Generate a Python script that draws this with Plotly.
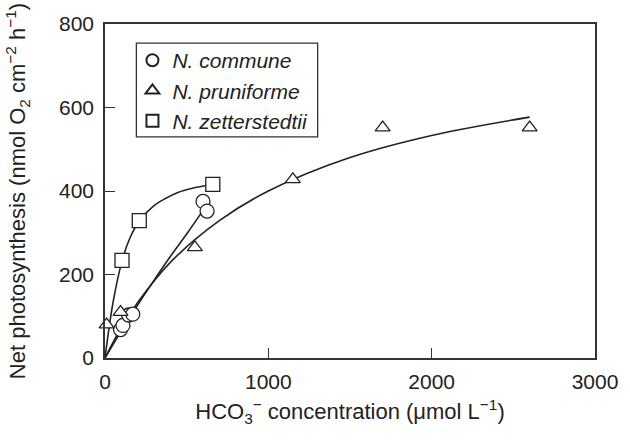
import plotly.graph_objects as go

# Measured data points
commune_x = [95, 110, 145, 170, 600, 625]
commune_y = [68, 78, 103, 105, 375, 352]
pruniforme_x = [10, 95, 550, 1150, 1700, 2600]
pruniforme_y = [80, 110, 265, 428, 552, 552]
zetter_x = [104, 210, 660]
zetter_y = [234, 329, 416]

# Fitted curves
commune_fit_x = [0, 100, 200, 300, 400, 500, 615]
commune_fit_y = [0, 65, 127, 186, 243, 297, 362]
pruniforme_fit_x = [0, 100, 200, 400, 700, 1000, 1500, 2000, 2600]
pruniforme_fit_y = [0, 73, 133, 229, 329, 400, 480, 533, 577]
zetter_fit_x = [0, 50, 104, 150, 210, 300, 370, 450, 530, 660]
zetter_fit_y = [0, 135, 232, 285, 328, 365, 382, 397, 406, 416]

x_ticks = [0, 1000, 2000, 3000]
y_ticks = [0, 200, 400, 600, 800]

INK = "#222222"
AXIS = "#333333"
FONT = "Liberation Sans, Arial, sans-serif"

fig = go.Figure()

for fx, fy in [(commune_fit_x, commune_fit_y),
               (pruniforme_fit_x, pruniforme_fit_y),
               (zetter_fit_x, zetter_fit_y)]:
    fig.add_trace(go.Scatter(x=fx, y=fy, mode="lines", line=dict(color=INK, width=1.6, shape="spline"),
                             showlegend=False, hoverinfo="skip"))

series = [
    ("<i>N. commune</i>", commune_x, commune_y, "circle", 14),
    ("<i>N. pruniforme</i>", pruniforme_x, pruniforme_y, "triangle-up", 13),
    ("<i>N. zetterstedtii</i>", zetter_x, zetter_y, "square", 14),
]
for i, (name, xs, ys, sym, sz) in enumerate(series):
    fig.add_trace(go.Scatter(
        x=xs, y=ys, mode="markers", name=name, legendgroup=f"g{i}",
        marker=dict(symbol=sym, size=sz, color="white", line=dict(color=INK, width=1.3)),
        cliponaxis=False,
    ))

# legend frame
fig.add_shape(type="rect", xref="paper", yref="paper",
              x0=0.064, x1=0.434, y0=0.662, y1=0.943,
              line=dict(color=AXIS, width=1.3), fillcolor="rgba(0,0,0,0)", layer="above")

fig.update_layout(
    width=630, height=445,
    margin=dict(l=105, r=25, t=24, b=87),
    paper_bgcolor="white", plot_bgcolor="white",
    font=dict(family=FONT, size=21, color=INK),
    legend=dict(
        x=0.056, y=0.952, xanchor="left", yanchor="top",
        borderwidth=0, bgcolor="rgba(0,0,0,0)",
        font=dict(family=FONT, size=21, color=INK),
        itemsizing="constant", tracegroupgap=0, traceorder="grouped",
    ),
    xaxis=dict(
        range=[0, 3000], tickvals=x_ticks, ticks="inside", ticklen=10, tickwidth=1.3,
        tickcolor=AXIS, showgrid=False, zeroline=False, showline=True, linecolor=AXIS,
        linewidth=1.5, mirror=True, tickfont=dict(size=21), ticklabelstandoff=4,
        title=dict(text="HCO<sub>3</sub><sup>−</sup> concentration (μmol L<sup>−1</sup>)",
                   font=dict(size=22), standoff=12),
    ),
    yaxis=dict(
        range=[0, 800], tickvals=y_ticks, ticks="inside", ticklen=10, tickwidth=1.3,
        tickcolor=AXIS, showgrid=False, zeroline=False, showline=True, linecolor=AXIS,
        linewidth=1.5, mirror=True, tickfont=dict(size=21), ticklabelstandoff=5,
        title=dict(text="Net photosynthesis (nmol O<sub>2</sub> cm<sup>−2</sup> h<sup>−1</sup>)",
                   font=dict(size=22), standoff=27),
    ),
)

fig.write_html("out.html", config={"displayModeBar": False},
               post_script="document.body.style.margin='0';")
